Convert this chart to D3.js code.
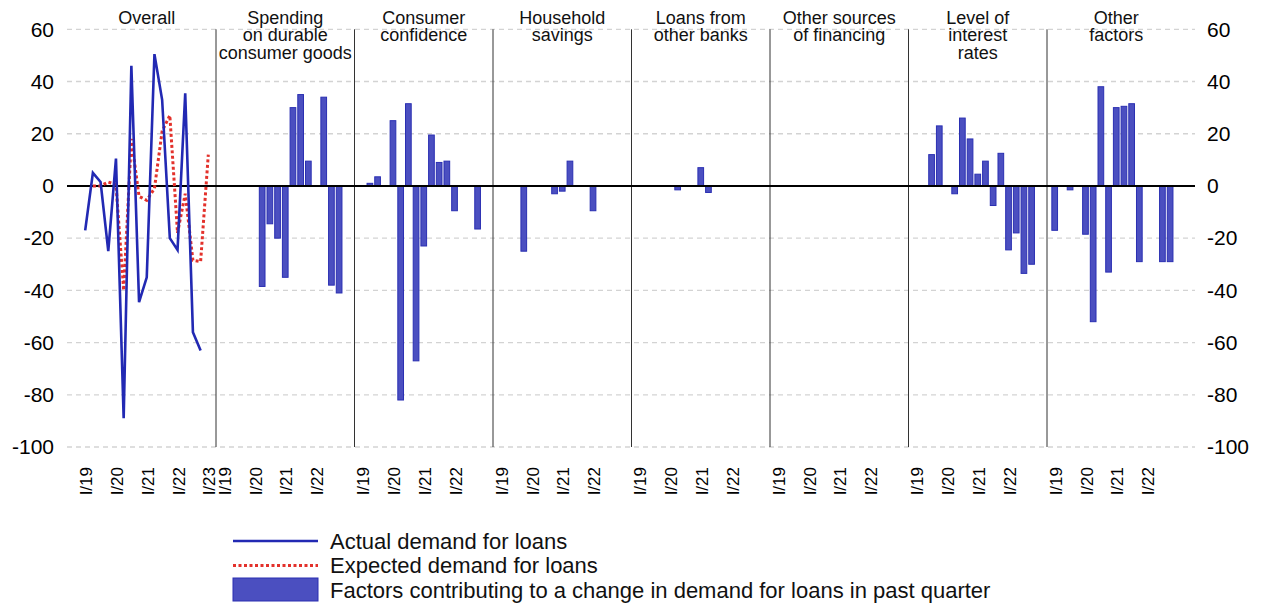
<!DOCTYPE html>
<html>
<head>
<meta charset="utf-8">
<script src="https://cdn.jsdelivr.net/npm/d3@7"></script>
<style>
  body { margin: 0; background: #fff; }
  svg { font-family: 'Liberation Sans', Arial, sans-serif; }
</style>
</head>
<body>
<div id="chart"></div>
<script>
// panel titles (one array of lines per panel)
const panelTitles = [
  ['Overall'],
  ['Spending', 'on durable', 'consumer goods'],
  ['Consumer', 'confidence'],
  ['Household', 'savings'],
  ['Loans from', 'other banks'],
  ['Other sources', 'of financing'],
  ['Level of', 'interest', 'rates'],
  ['Other', 'factors']
];

// quarters I/19 .. I/23 (index 0 = I/19)
const quarters = ['I/19', 'II/19', 'III/19', 'IV/19', 'I/20', 'II/20', 'III/20', 'IV/20',
  'I/21', 'II/21', 'III/21', 'IV/21', 'I/22', 'II/22', 'III/22', 'IV/22', 'I/23'];
const overallTicks = ['I/19', 'I/20', 'I/21', 'I/22', 'I/23'];
const factorTicks = ['I/19', 'I/20', 'I/21', 'I/22'];
const yTicks = [60, 40, 20, 0, -20, -40, -60, -80, -100];

// overall panel lines
const actualDemand = [-17, 5, 1.5, -25, 10.5, -89, 46, -44.5, -35, 50.5, 33, -20, -24.5, 35.5, -56, -63];
const expectedDemand = [null, 0, 0, 1.5, 0.5, -40, 18, -4, -5.5, -1, 21, 27, -18, -3, -28.5, -29, 12];

// factors (I/19 .. IV/22)
const spending = [0, 0, 0, 0, 0, -38.5, -14.5, -20, -35, 30, 35, 9.5, 0, 34, -38, -41];
const confidence = [0, 1, 3.5, 0, 25, -82, 31.5, -67, -23, 19.5, 9, 9.5, -9.5, 0, 0, -16.5];
const savings = [0, 0, 0, -25, 0, 0, 0, -3, -2, 9.5, 0, 0, -9.5, 0, 0, 0];
const otherBanks = [0, 0, 0, 0, 0, -1.5, 0, 0, 7, -2.5, 0, 0, 0, 0, 0, 0];
const otherFinancing = [0, 0, 0, 0, 0, 0, 0, 0, 0, 0, 0, 0, 0, 0, 0, 0];
const interestRates = [0, 0, 12, 23, 0, -3, 26, 18, 4.5, 9.5, -7.5, 12.5, -24.5, -18, -33.5, -30];
const otherFactors = [-17, 0, -1.5, 0, -18.5, -52, 38, -33, 30, 30.5, 31.5, -29, 0, 0, -29, -29];

const factorSeries = [null, spending, confidence, savings, otherBanks, otherFinancing, interestRates, otherFactors];

const legendItems = [
  { type: 'line', label: 'Actual demand for loans' },
  { type: 'dash', label: 'Expected demand for loans' },
  { type: 'bar', label: 'Factors contributing to a change in demand for loans in past quarter' }
];

const WIDTH = 1264;
const HEIGHT = 607;
const BLUE = '#2229b3';
const RED = '#e3312b';
const BAR_FILL = '#4b4fc0';
const BAR_STROKE = '#2a2fb2';

const svg = d3.select('#chart')
  .append('svg')
  .attr('width', WIDTH)
  .attr('height', HEIGHT);

const y = d3.scaleLinear().domain([-100, 60]).range([447, 29.3]);

const panel = d3.scaleBand()
  .domain(d3.range(panelTitles.length))
  .range([77.5, 1185.5])
  .padding(0);

// position of a quarter inside a panel
const xq = d3.scaleLinear().domain([-1, 17]).range([0, panel.bandwidth()]);
const slot = xq(1) - xq(0);

const gridLeft = 67;
const gridRight = 1195;

// gridlines
svg.append('g')
  .selectAll('line')
  .data(yTicks.filter((d) => d !== 0))
  .enter()
  .append('line')
  .attr('x1', gridLeft)
  .attr('x2', gridRight)
  .attr('y1', (d) => y(d))
  .attr('y2', (d) => y(d))
  .attr('stroke', '#d3d3d3')
  .attr('stroke-width', 1.3)
  .attr('stroke-dasharray', '5,4');

// y axis labels, left and right (plain hyphen for minus)
const fmt = (d) => String(d);
const leftAxis = d3.axisLeft(y).tickValues(yTicks).tickFormat(fmt).tickSize(0).tickPadding(0);
svg.append('g')
  .attr('transform', 'translate(54,0)')
  .call(leftAxis)
  .call((g) => g.select('.domain').remove())
  .call((g) => g.selectAll('text').attr('font-size', 21).attr('fill', '#000').attr('font-family', 'Liberation Sans, Arial, sans-serif'));

const rightAxis = d3.axisRight(y).tickValues(yTicks).tickFormat(fmt).tickSize(0).tickPadding(0);
svg.append('g')
  .attr('transform', 'translate(1207,0)')
  .call(rightAxis)
  .call((g) => g.select('.domain').remove())
  .call((g) => g.selectAll('text').attr('font-size', 21).attr('fill', '#000').attr('font-family', 'Liberation Sans, Arial, sans-serif'));

// panel separators
svg.append('g')
  .selectAll('line')
  .data(d3.range(1, panelTitles.length))
  .enter()
  .append('line')
  .attr('x1', (d) => panel(d))
  .attr('x2', (d) => panel(d))
  .attr('y1', y(60))
  .attr('y2', y(-100))
  .attr('stroke', '#333')
  .attr('stroke-width', 1);

// titles
panelTitles.forEach((lines, i) => {
  svg.append('text')
    .attr('text-anchor', 'middle')
    .attr('font-size', 18)
    .attr('fill', '#111')
    .selectAll('tspan')
    .data(lines)
    .enter()
    .append('tspan')
    .attr('x', panel(i) + panel.bandwidth() / 2)
    .attr('y', (d, j) => 23.5 + j * 17.8)
    .text((d) => d);
});

// bars
factorSeries.forEach((series, i) => {
  if (!series) return;
  const barW = slot * 0.74;
  svg.append('g')
    .selectAll('rect')
    .data(series.map((v, q) => ({ v, q })).filter((d) => d.v !== 0))
    .enter()
    .append('rect')
    .attr('x', (d) => panel(i) + xq(d.q) - barW / 2)
    .attr('y', (d) => y(Math.max(0, d.v)))
    .attr('width', barW)
    .attr('height', (d) => Math.abs(y(d.v) - y(0)))
    .attr('fill', BAR_FILL)
    .attr('stroke', BAR_STROKE)
    .attr('stroke-width', 1);
});

// zero line
svg.append('line')
  .attr('x1', gridLeft)
  .attr('x2', gridRight)
  .attr('y1', y(0))
  .attr('y2', y(0))
  .attr('stroke', '#000')
  .attr('stroke-width', 2);

// overall lines
const line = d3.line()
  .defined((d) => d.v !== null)
  .x((d) => panel(0) + xq(d.q))
  .y((d) => y(d.v));

svg.append('path')
  .datum(expectedDemand.map((v, q) => ({ v, q })))
  .attr('d', line)
  .attr('fill', 'none')
  .attr('stroke', RED)
  .attr('stroke-width', 3)
  .attr('stroke-dasharray', '3,2.5');

svg.append('path')
  .datum(actualDemand.map((v, q) => ({ v, q })))
  .attr('d', line)
  .attr('fill', 'none')
  .attr('stroke', BLUE)
  .attr('stroke-width', 2.6)
  .attr('stroke-linejoin', 'miter');

// x labels (rotated)
panelTitles.forEach((t, i) => {
  const ticks = i === 0 ? overallTicks : factorTicks;
  svg.append('g')
    .selectAll('text')
    .data(ticks)
    .enter()
    .append('text')
    .attr('transform', (d) => 'translate(' + (panel(i) + xq(quarters.indexOf(d)) + 1) + ',467) rotate(-90)')
    .attr('text-anchor', 'end')
    .attr('dy', '0.36em')
    .attr('font-size', 17)
    .attr('fill', '#000')
    .text((d) => d);
});

// legend
const legend = svg.append('g').attr('transform', 'translate(233,541)');
legendItems.forEach((item, i) => {
  const g = legend.append('g').attr('transform', 'translate(0,' + i * 24.5 + ')');
  if (item.type === 'line') {
    g.append('line').attr('x1', 0).attr('x2', 85).attr('stroke', BLUE).attr('stroke-width', 2.6);
  } else if (item.type === 'dash') {
    g.append('line').attr('x1', 0).attr('x2', 85).attr('stroke', RED).attr('stroke-width', 3).attr('stroke-dasharray', '3,2.5');
  } else {
    g.append('rect').attr('x', 0).attr('y', -12).attr('width', 85).attr('height', 23)
      .attr('fill', BAR_FILL).attr('stroke', BAR_STROKE).attr('stroke-width', 1);
  }
  g.append('text')
    .attr('x', 97)
    .attr('dy', '0.35em')
    .attr('font-size', 22)
    .attr('fill', '#111')
    .text(item.label);
});
</script>
</body>
</html>
